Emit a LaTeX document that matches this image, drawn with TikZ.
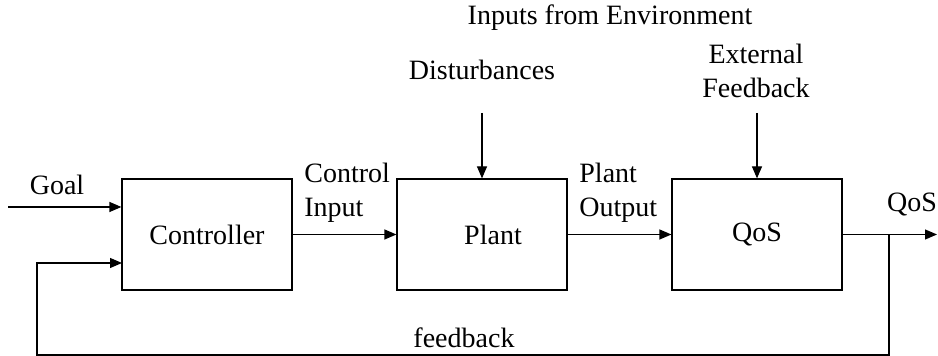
\documentclass[tikz,border=0pt]{standalone}
\usepackage{fontspec}
\setmainfont{Liberation Serif}
\usetikzlibrary{arrows.meta}
\definecolor{ink}{HTML}{000000}
\tikzset{
  font=\fontsize{14}{17}\selectfont,
  >={Triangle[length=6pt,width=5pt]},
  block/.style={draw=ink,line width=.6pt,inner sep=0pt,minimum width=85pt,minimum height=55.5pt},
  tag/.style={inner sep=0pt,align=center},
  flow/.style={->,draw=ink,line width=.6pt}
}
\begin{document}
\begin{tikzpicture}[x=.5pt,y=.5pt]
  \useasboundingbox (0,0) rectangle (938,356);
  \node[block] (ctrl) at (207,121.5) {Controller};
  \node[block,label={[xshift=5.5pt]center:Plant}] (plant) at (482,121.5) {};
  \node[block] (qos) at (757,121.5) {QoS};

  \node[tag] (env) at (610,338) {Inputs from Environment};
  \node[tag] (disttxt) at (482,286) {Disturbances};
  \node[tag] (exttxt) at (756,285) {External\\Feedback};
  \node[tag] (goaltxt) at (57,171) {Goal};
  \node[tag,anchor=west,align=left] (cintxt) at (304,163) {Control\\Input};
  \node[tag,anchor=west,align=left] (pouttxt) at (579,163) {Plant\\Output};
  \node[tag] (qostxt) at (912,151) {QoS};
  \node[tag] (fbtxt) at (464,18) {feedback};

  \coordinate (goal) at (8,149);
  \coordinate (dist) at (482,243);
  \coordinate (ext) at (757,243);
  \coordinate (out) at (937,121.5);
  \coordinate (branch) at (889,121.5);
  \coordinate (low) at (37,1);
  \coordinate (fbin) at (122,93);

  % forward path and inputs from outside
  \draw[flow] (goal) -- (goal -| ctrl.west);
  \draw[flow] (ctrl) -- (plant);
  \draw[flow] (plant) -- (qos);
  \draw[flow] (qos) -- (out);
  \draw[flow] (dist) -- (plant.north);
  \draw[flow] (ext) -- (qos.north);
  \draw[flow] (branch) |- (low) |- (fbin);
\end{tikzpicture}
\end{document}
